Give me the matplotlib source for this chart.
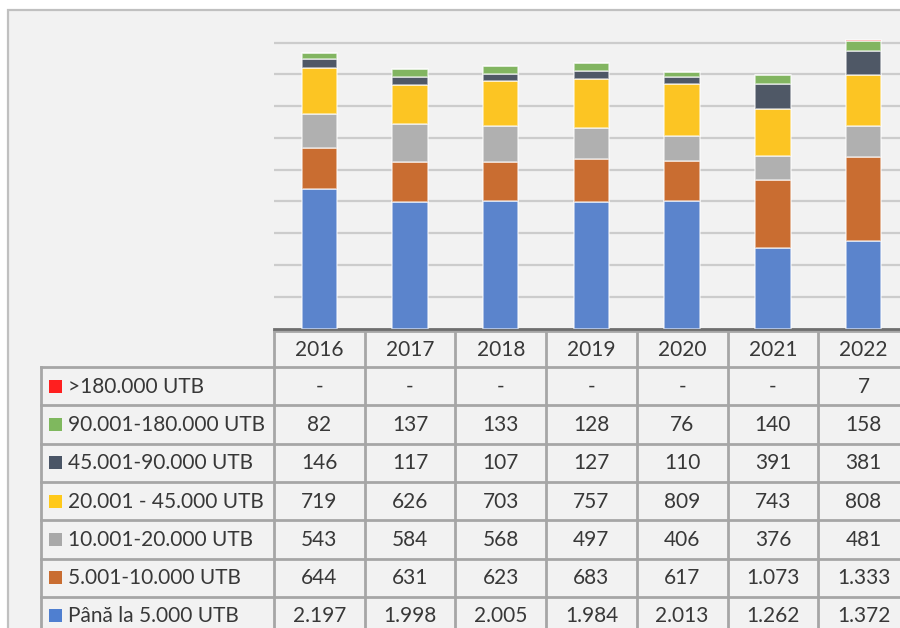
import matplotlib
matplotlib.use("Agg")
import matplotlib.pyplot as plt
from matplotlib.patches import Rectangle
import numpy as np

plt.rcParams["font.family"] = ["Lato", "DejaVu Sans"]

years = ["2016", "2017", "2018", "2019", "2020", "2021", "2022"]

# series, bottom of the stack first
upto_5k    = [2197, 1998, 2005, 1984, 2013, 1262, 1372]
r5k_10k    = [644, 631, 623, 683, 617, 1073, 1333]
r10k_20k   = [543, 584, 568, 497, 406, 376, 481]
r20k_45k   = [719, 626, 703, 757, 809, 743, 808]
r45k_90k   = [146, 117, 107, 127, 110, 391, 381]
r90k_180k  = [82, 137, 133, 128, 76, 140, 158]
over_180k  = [0, 0, 0, 0, 0, 0, 7]

labels = [
    "Până la 5.000 UTB",
    "5.001-10.000 UTB",
    "10.001-20.000 UTB",
    "20.001 - 45.000 UTB",
    "45.001-90.000 UTB",
    "90.001-180.000 UTB",
    ">180.000 UTB",
]
series = [upto_5k, r5k_10k, r10k_20k, r20k_45k, r45k_90k, r90k_180k, over_180k]
bar_colors = ["#5b84cc", "#c96d31", "#b0b0b0", "#fcc523", "#4f5866", "#82b561", "#ff6b6b"]
key_colors = ["#4f7fd0", "#c96d31", "#a9a9a9", "#ffc91a", "#4a5566", "#7fb85e", "#ff1f1f"]

W, H = 900, 628
TXT = "#383838"
LINE = "#a6a6a6"
FS = 15


def fmt(v):
    if v == 0:
        return "-"
    return f"{v:,}".replace(",", ".")


fig = plt.figure(figsize=(W / 100, H / 100), dpi=100, facecolor="white")

# pixel-space axes for the frame and the data table
bg = fig.add_axes([0, 0, 1, 1])
bg.set_xlim(0, W)
bg.set_ylim(H, 0)
bg.axis("off")
bg.add_patch(Rectangle((8, 10), 1000, 700, facecolor="#f2f2f2",
                       edgecolor="#c0c0c0", lw=1.6))

# table geometry (pixels)
x_lab = 41
x0 = 274
col_w = 90.7
y_head = 331
head_h = 36
row_h = 38.3
n = len(years)
x_end = x0 + n * col_w

# header cells
for i, yr in enumerate(years):
    cx = x0 + (i + 0.5) * col_w
    bg.text(cx, y_head + head_h / 2 + 0.5, yr, ha="center", va="center",
            fontsize=FS, color=TXT)
bg.plot([x0, x_end], [y_head, y_head], color=LINE, lw=2)
for i in range(n + 1):
    xx = x0 + i * col_w
    bg.plot([xx, xx], [y_head, H + 20], color=LINE, lw=2)

# body rows, top row is the last series
rows_top = y_head + head_h
for r, k in enumerate(range(len(series) - 1, -1, -1)):
    yt = rows_top + r * row_h
    yc = yt + row_h / 2
    bg.plot([x_lab, x_end], [yt, yt], color=LINE, lw=2)
    bg.add_patch(Rectangle((49, yc - 6.5), 13, 13, facecolor=key_colors[k],
                           edgecolor="none"))
    bg.text(68, yc + 0.5, labels[k], ha="left", va="center", fontsize=FS, color=TXT)
    for i, v in enumerate(series[k]):
        cx = x0 + (i + 0.5) * col_w
        bg.text(cx, yc + 0.5, fmt(v), ha="center", va="center",
                fontsize=FS, color=TXT)
bg.plot([x_lab, x_lab], [rows_top, H + 20], color=LINE, lw=2)

# bar chart axes, lined up with the table columns
ax_left = x0 / W
ax_w = (x_end - x0) / W
ax_bottom = (H - 328.5) / H
px_per_unit = (328.5 - 42.7) / 4500
ymax = 4700
ax_h = ymax * px_per_unit / H
ax = fig.add_axes([ax_left, ax_bottom, ax_w, ax_h])
ax.patch.set_alpha(0)

x = np.arange(n)
bottom = np.zeros(n)
for vals, col in zip(series, bar_colors):
    vals = np.array(vals, dtype=float)
    ax.bar(x, vals, bottom=bottom, width=0.39, color=col,
           edgecolor=(1, 1, 1, 0.6), linewidth=1.2, zorder=3)
    bottom += vals

ax.set_xlim(-0.5, n - 0.5)
ax.set_ylim(0, ymax)
ax.set_yticks(np.arange(500, 4501, 500))
ax.yaxis.grid(True, color="#cccccc", lw=1.6, zorder=0)
ax.set_xticks([])
ax.tick_params(axis="y", length=0, labelleft=False)
for s in ["top", "right", "left"]:
    ax.spines[s].set_visible(False)
ax.spines["bottom"].set_color("#6e6e6e")
ax.spines["bottom"].set_linewidth(2)

fig.savefig("out.png", dpi=100, facecolor="white")
